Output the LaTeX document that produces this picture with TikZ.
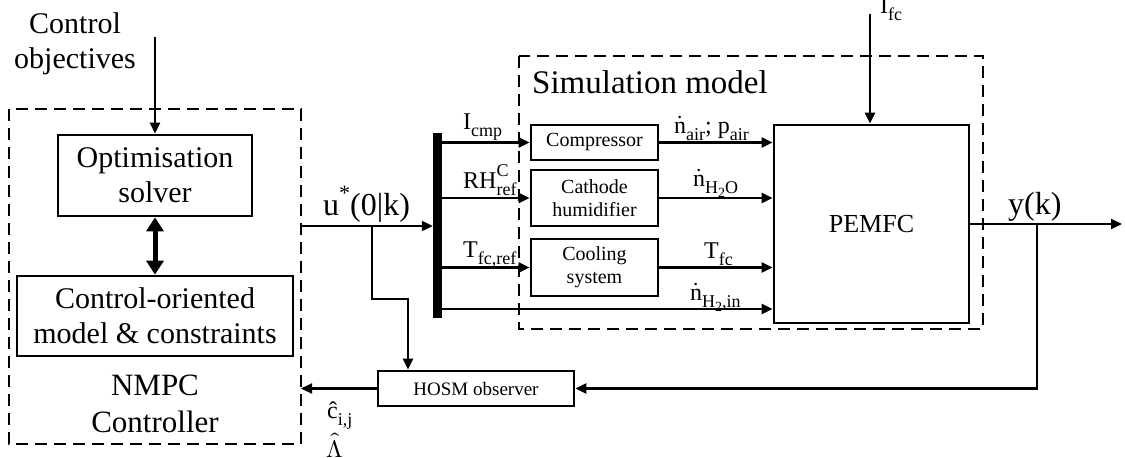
\documentclass[tikz,border=0pt]{standalone}
\usepackage{unicode-math}
\setmainfont{Liberation Serif}
\setmathfont{Latin Modern Math}
\usetikzlibrary{arrows.meta}
\newcommand\rmr[1]{\mathrm{#1}}
\newcommand\sbs[1]{\raisebox{-0.3em}{\fontsize{18}{18}\selectfont #1}}
\newcommand\sps[1]{\raisebox{0.5em}{\fontsize{18}{18}\selectfont #1}}
\newcommand\spsl[1]{\raisebox{0.45em}{\fontsize{22}{22}\selectfont #1}}
\newcommand\ssbs[1]{\raisebox{-0.25em}{\fontsize{14}{14}\selectfont #1}}
\newcommand\nd{$\dot{\rmr{n}}$}
\begin{document}
\begin{tikzpicture}[x=1pt,y=-1pt,
  box/.style={draw,line width=2.7pt,inner sep=0pt,align=center},
  dbox/.style={draw,line width=2.8pt,dash pattern=on 12pt off 7pt},
  con/.style={line width=2.2pt},
  arr/.style={con,-{Triangle[length=11pt,width=10pt]}},
  big/.style={font=\fontsize{30}{35}\selectfont,align=center},
  sml/.style={font=\fontsize{20}{23}\selectfont,align=center},
  lbl/.style={font=\fontsize{24}{28}\selectfont,inner sep=0pt},
  lbll/.style={font=\fontsize{32}{36}\selectfont,inner sep=0pt}]
\useasboundingbox (0,0) rectangle (1125,458);
% dashed groups
\draw[dbox] (9,109) rectangle (301,444);
\draw[dbox] (519,56) rectangle (983,329);
\coordinate (nmpcR) at (301,226);
\coordinate (nmpcIn) at (301,388.5);
% NMPC side
\node[big] (obj) at (75,44) {Control\\objectives};
\coordinate (objArr) at (155,37);
\node[box,big,minimum width=194pt,minimum height=81pt] (opt) at (155,175.5) {Optimisation\\solver};
\node[box,big,minimum width=276pt,minimum height=80pt] (com) at (155,316) {Control-oriented\\model \& constraints};
\node[big,font=\fontsize{31}{37}\selectfont] (nmpc) at (155,404) {NMPC\\Controller};
\draw[arr] (objArr) -- (opt.north);
\draw[line width=5pt,{Triangle[length=14pt,width=17pt]}-{Triangle[length=14pt,width=17pt]}] (opt.south) -- (com.north);
% mux bar
\node[fill=black,inner sep=0pt,minimum width=9pt,minimum height=185pt] (bar) at (437.5,225.5) {};
\draw[arr] (nmpcR) -- (bar.west |- nmpcR);
\node[lbll,anchor=base west] (ulab) at (323,215) {u\spsl{*}(0|k)};
% simulation model
\node[font=\fontsize{33}{37}\selectfont,anchor=base west,inner sep=0pt] (simlab) at (532,93) {Simulation model};
\node[box,sml,minimum width=127pt,minimum height=35pt] (comp) at (594.5,142.5) {Compressor};
\node[box,sml,minimum width=127pt,minimum height=56pt] (hum) at (594.5,198) {Cathode\\humidifier};
\node[box,sml,minimum width=127pt,minimum height=57pt] (cool) at (594.5,267.5) {Cooling\\system};
\node[box,minimum width=195pt,minimum height=198pt,font=\fontsize{26}{30}\selectfont] (pem) at (871.5,224) {PEMFC};
\coordinate (h2y) at (0,309);
\draw[arr] (bar.east |- comp) -- (comp.west);
\draw[arr] (bar.east |- hum) -- (hum.west);
\draw[arr] (bar.east |- cool) -- (cool.west);
\draw[arr] (bar.east |- h2y) -- (pem.west |- h2y);
\draw[arr] (comp.east) -- (pem.west |- comp);
\draw[arr] (hum.east) -- (pem.west |- hum);
\draw[arr] (cool.east) -- (pem.west |- cool);
\node[lbl,anchor=base west] (licmp) at (463,129) {I\sbs{cmp}};
\node[lbl,anchor=base west] (lrh) at (463,188) {RH\rlap{\sps{C}}\sbs{ref}};
\node[lbl,anchor=base west] (ltfr) at (463,257) {T\sbs{fc,ref}};
\node[lbl,anchor=base west] (lnair) at (674,133) {\nd\sbs{air}; p\sbs{air}};
\node[lbl,anchor=base west] (lnh2o) at (693,186) {\nd\sbs{H\ssbs{2}O}};
\node[lbl,anchor=base west] (ltfc) at (704,258) {T\sbs{fc}};
\node[lbl,anchor=base west] (lnh2in) at (690,300) {\nd\sbs{H\ssbs{2},in}};
% current input
\coordinate (ifcTop) at (870,14);
\draw[arr] (ifcTop) -- (ifcTop |- pem.north);
\node[lbl,anchor=base west] (lifc) at (880,13) {I\sbs{fc}};
% output
\coordinate (yEnd) at (1122,224);
\coordinate (yBr) at (1037,224);
\draw[arr] (pem.east) -- (yEnd);
\node[lbll,anchor=base west] (ylab) at (1008,214) {y(k)};
% observer
\node[box,sml,minimum width=196pt,minimum height=35pt,font=\fontsize{19}{22}\selectfont] (hosm) at (476,388.5) {HOSM observer};
\draw[arr] (yBr) |- (hosm.east);
\draw[arr] (hosm.west) -- (nmpcIn);
\coordinate (uBr) at (372,226);
\draw[arr] (uBr) -- (372,299) -| (hosm.north -| 408,0);
\node[lbl,anchor=base west] (lc) at (327,418) {\^c\sbs{i,j}};
\node[lbl] (llam) at (335,445) {$\hat{\Lambda}$};
\end{tikzpicture}
\end{document}
